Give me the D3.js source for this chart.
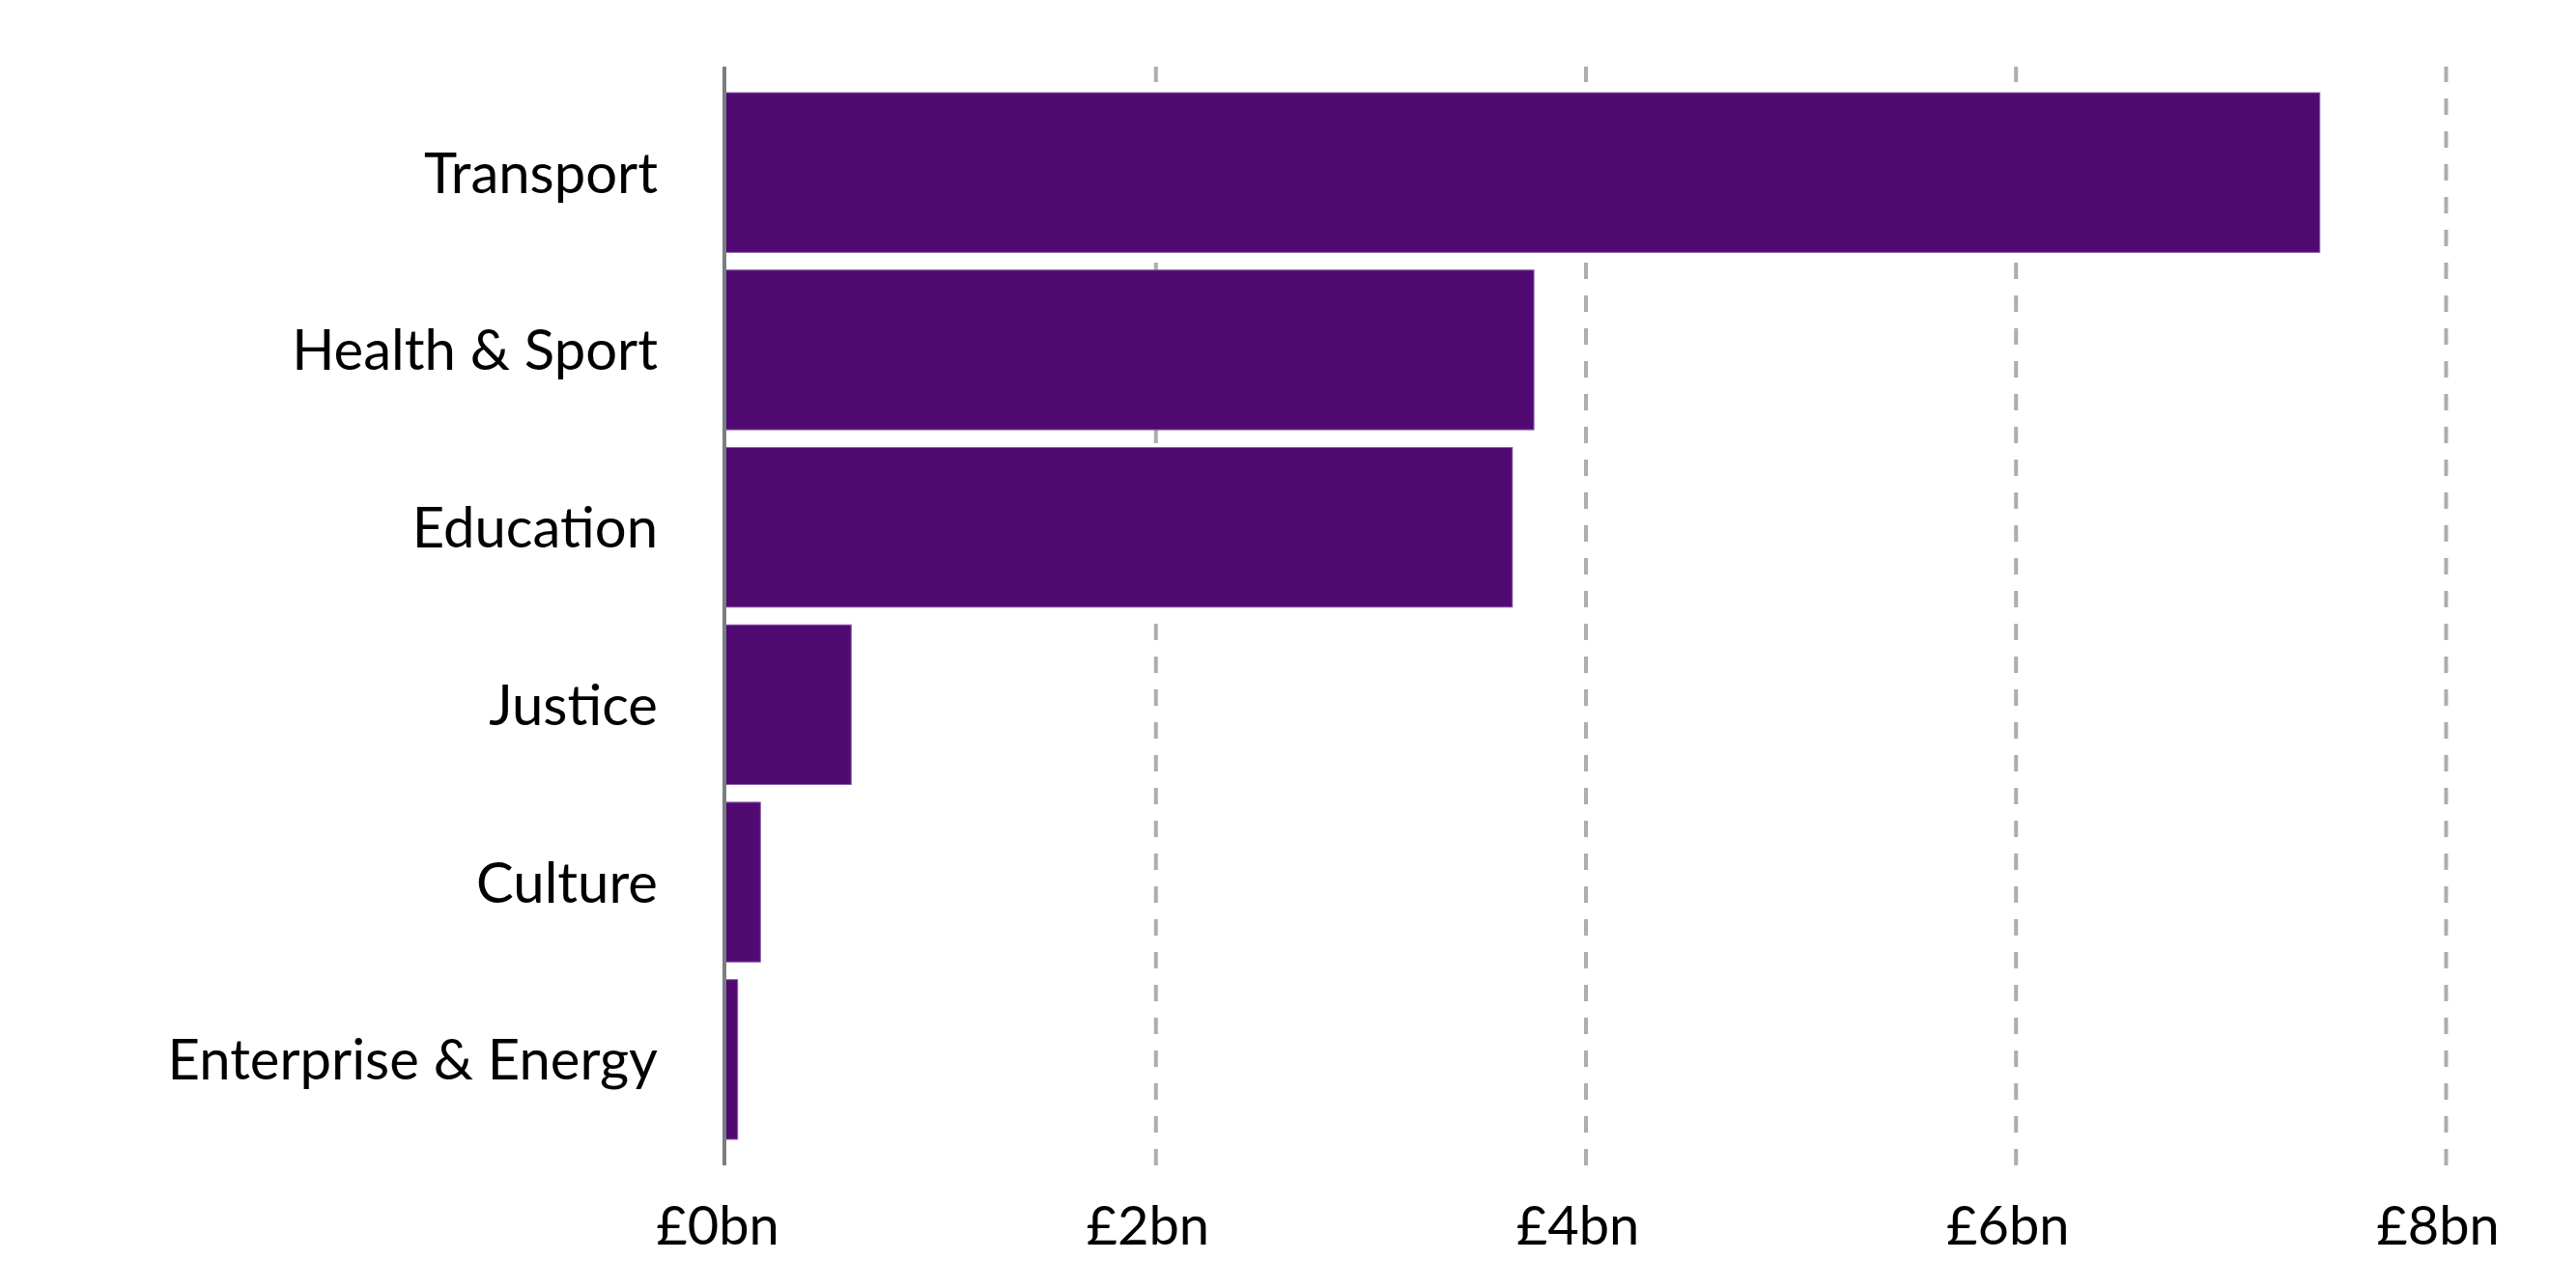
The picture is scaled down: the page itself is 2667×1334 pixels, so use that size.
<!DOCTYPE html>
<html>
<head>
<meta charset="utf-8">
<script src="https://cdn.jsdelivr.net/npm/d3@7"></script>
<style>
  html, body { margin: 0; padding: 0; background: #fff; }
  #chart text { font-family: Lato, "Open Sans", sans-serif; fill: #000; }
  .grid line { stroke: #adadad; stroke-width: 4; stroke-dasharray: 17 17; }
  .grid path { display: none; }
</style>
</head>
<body>
<div id="chart"></div>
<script>
'use strict'

// data (in £bn)
const categories = ['Transport', 'Health & Sport', 'Education', 'Justice', 'Culture', 'Enterprise & Energy']
const values = [7.415, 3.76, 3.66, 0.585, 0.163, 0.057]
const tickValues = [0, 2, 4, 6, 8]
const tickLabels = ['£0bn', '£2bn', '£4bn', '£6bn', '£8bn']

const data = categories.map((c, i) => ({ name: c, value: values[i] }))

const svgWidth = 2667
const svgHeight = 1334

// plot area edges
const plot = {
    left: 751,
    right: 2532,
    top: 69,
    bottom: 1207
}

const svg = d3.select('#chart')
    .append('svg')
    .attr('width', svgWidth)
    .attr('height', svgHeight)
    .attr('viewBox', `0 0 ${svgWidth} ${svgHeight}`)

////////////////////////////////////
//////////////scales////////////////
////////////////////////////////////

const xScale = d3.scaleLinear()
    .domain([0, 8])
    .range([plot.left, plot.right])

const yScale = d3.scaleBand()
    .domain(categories)
    .range([plot.top, plot.bottom])
    .paddingInner(0.1)
    .paddingOuter(0.147)

// dashed vertical gridlines (not at zero)
svg.append('g')
    .attr('class', 'grid')
    .attr('transform', `translate(0,${plot.bottom})`)
    .call(d3.axisBottom(xScale)
        .tickValues(tickValues.filter(d => d > 0))
        .tickSize(-(plot.bottom - plot.top))
        .tickFormat(''))

// bars
svg.selectAll('.bar')
    .data(data)
    .join('rect')
    .attr('class', 'bar')
    .attr('x', xScale(0))
    .attr('y', d => yScale(d.name))
    .attr('width', d => xScale(d.value) - xScale(0))
    .attr('height', yScale.bandwidth())
    .attr('fill', '#500a71')
    .attr('stroke', '#8a5aa6')
    .attr('stroke-width', 1)

// zero axis line
svg.append('line')
    .attr('x1', xScale(0) - 1)
    .attr('x2', xScale(0) - 1)
    .attr('y1', plot.top)
    .attr('y2', plot.bottom)
    .attr('stroke', '#7a7f80')
    .attr('stroke-width', 4)

// category labels
svg.selectAll('.cat-label')
    .data(data)
    .join('text')
    .attr('class', 'cat-label')
    .attr('x', 681)
    .attr('y', d => yScale(d.name) + yScale.bandwidth() / 2 + 21)
    .attr('text-anchor', 'end')
    .style('font-size', '58px')
    .text(d => d.name)

// x tick labels
svg.selectAll('.tick-label')
    .data(tickValues)
    .join('text')
    .attr('class', 'tick-label')
    .attr('x', d => xScale(d) - 8)
    .attr('y', 1289)
    .attr('text-anchor', 'middle')
    .style('font-size', '56px')
    .text((d, i) => tickLabels[i])
</script>
</body>
</html>
